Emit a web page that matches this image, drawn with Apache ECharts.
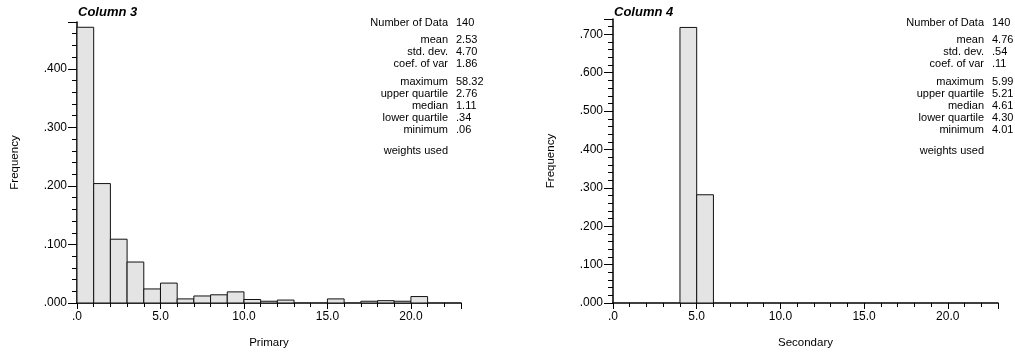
<!DOCTYPE html>
<html>
<head>
<meta charset="utf-8">
<script src="https://cdn.jsdelivr.net/npm/echarts@6/dist/echarts.min.js"></script>
<style>
  html, body { margin: 0; padding: 0; background: #fff; }
  #chart { width: 1015px; height: 354px; }
</style>
</head>
<body>
<div id="chart"></div>
<script>
// Histogram bins: unit-width classes starting at 0
const binStarts = [0,1,2,3,4,5,6,7,8,9,10,11,12,13,14,15,16,17,18,19,20,21,22];
const binWidth = 1;

// Class frequencies for each variable
const primaryFreq = [0.471, 0.204, 0.109, 0.070, 0.024, 0.034, 0.007, 0.012, 0.014, 0.019,
                     0.006, 0.003, 0.005, 0, 0, 0.007, 0, 0.003, 0.004, 0.003, 0.011, 0, 0];
const secondaryFreq = [0, 0, 0, 0, 0.718, 0.282, 0, 0, 0, 0, 0, 0, 0, 0, 0, 0, 0, 0, 0, 0, 0, 0, 0];

// Summary statistics
const statLabels = ['Number of Data', 'mean', 'std. dev.', 'coef. of var',
                    'maximum', 'upper quartile', 'median', 'lower quartile', 'minimum'];
const primaryStats = ['140', '2.53', '4.70', '1.86', '58.32', '2.76', '1.11', '.34', '.06'];
const secondaryStats = ['140', '4.76', '.54', '.11', '5.99', '5.21', '4.61', '4.30', '4.01'];
const weightsNote = 'weights used';

const panelTitles = ['Column 3', 'Column 4'];
const xNames = ['Primary', 'Secondary'];
const yName = 'Frequency';

const FONT = '"Liberation Sans", Arial, sans-serif';
const chart = echarts.init(document.getElementById('chart'), null, { renderer: 'canvas' });

function stripZero(s) { return s.replace(/^0\./, '.'); }

function histData(freqs) {
  const out = [];
  freqs.forEach((f, i) => {
    if (f > 0) out.push([binStarts[i], binStarts[i] + binWidth, f]);
  });
  return out;
}

function renderBar(params, api) {
  const p0 = api.coord([api.value(0), api.value(2)]);
  const p1 = api.coord([api.value(1), 0]);
  return {
    type: 'rect',
    shape: { x: p0[0], y: p0[1], width: p1[0] - p0[0], height: p1[1] - p0[1] },
    style: { fill: '#e4e4e4', stroke: '#111', lineWidth: 1 }
  };
}

const grids = [
  { left: 77, top: 22, width: 384, height: 283 },
  { left: 613, top: 19, width: 385, height: 286 }
];
const yMax = [0.48, 0.74];

function xAxisFor(i) {
  return {
    type: 'value', gridIndex: i, min: 0, max: 23, interval: 5,
    name: xNames[i], nameLocation: 'middle', nameGap: 34,
    nameTextStyle: { fontFamily: FONT, fontSize: 11.5, color: '#000' },
    axisLine: { show: true, lineStyle: { color: '#000', width: 1.5 } },
    axisTick: { show: true, length: 6, lineStyle: { color: '#000', width: 1 } },
    minorTick: { show: true, splitNumber: 5, length: 4, lineStyle: { color: '#000', width: 1 } },
    splitLine: { show: false },
    axisLabel: {
      fontFamily: FONT, fontSize: 12, color: '#000', margin: 8, showMaxLabel: false,
      formatter: v => stripZero(v.toFixed(1))
    }
  };
}

function yAxisFor(i) {
  return {
    type: 'value', gridIndex: i, min: 0, max: yMax[i], interval: 0.1,
    name: yName, nameLocation: 'middle', nameGap: 56,
    nameTextStyle: { fontFamily: FONT, fontSize: 11.5, color: '#000' },
    axisLine: { show: true, lineStyle: { color: '#000', width: 1.5 } },
    axisTick: { show: true, length: 9, lineStyle: { color: '#000', width: 1 } },
    minorTick: { show: true, splitNumber: 5, length: 5, lineStyle: { color: '#000', width: 1 } },
    splitLine: { show: false },
    axisLabel: {
      fontFamily: FONT, fontSize: 12, color: '#000', margin: 10, showMaxLabel: false,
      formatter: v => stripZero(v.toFixed(3))
    }
  };
}

// Statistics block: right-aligned labels, left-aligned values
const rowY = [23, 40, 52, 64, 82, 94, 106, 118, 130];
const labelRight = [448, 984];
const valueLeft = [456, 992];
const graphics = [];
[primaryStats, secondaryStats].forEach((vals, p) => {
  statLabels.forEach((lab, r) => {
    graphics.push({ type: 'text', x: labelRight[p], y: rowY[r],
      style: { text: lab, textAlign: 'right', textVerticalAlign: 'middle', fill: '#000', font: '11px ' + FONT } });
    graphics.push({ type: 'text', x: valueLeft[p], y: rowY[r],
      style: { text: vals[r], textAlign: 'left', textVerticalAlign: 'middle', fill: '#000', font: '11px ' + FONT } });
  });
  graphics.push({ type: 'text', x: labelRight[p], y: 151,
    style: { text: weightsNote, textAlign: 'right', textVerticalAlign: 'middle', fill: '#000', font: '11px ' + FONT } });
});

chart.setOption({
  animation: false,
  backgroundColor: '#fff',
  title: [
    { text: panelTitles[0], left: 78, top: 6, padding: 0,
      textStyle: { fontFamily: FONT, fontSize: 13, fontWeight: 'bold', fontStyle: 'italic', color: '#000' } },
    { text: panelTitles[1], left: 614, top: 6, padding: 0,
      textStyle: { fontFamily: FONT, fontSize: 13, fontWeight: 'bold', fontStyle: 'italic', color: '#000' } }
  ],
  grid: grids,
  xAxis: [xAxisFor(0), xAxisFor(1)],
  yAxis: [yAxisFor(0), yAxisFor(1)],
  series: [
    { type: 'custom', xAxisIndex: 0, yAxisIndex: 0, renderItem: renderBar,
      encode: { x: [0, 1], y: 2 }, data: histData(primaryFreq), clip: false },
    { type: 'custom', xAxisIndex: 1, yAxisIndex: 1, renderItem: renderBar,
      encode: { x: [0, 1], y: 2 }, data: histData(secondaryFreq), clip: false }
  ],
  graphic: graphics
});
</script>
</body>
</html>
